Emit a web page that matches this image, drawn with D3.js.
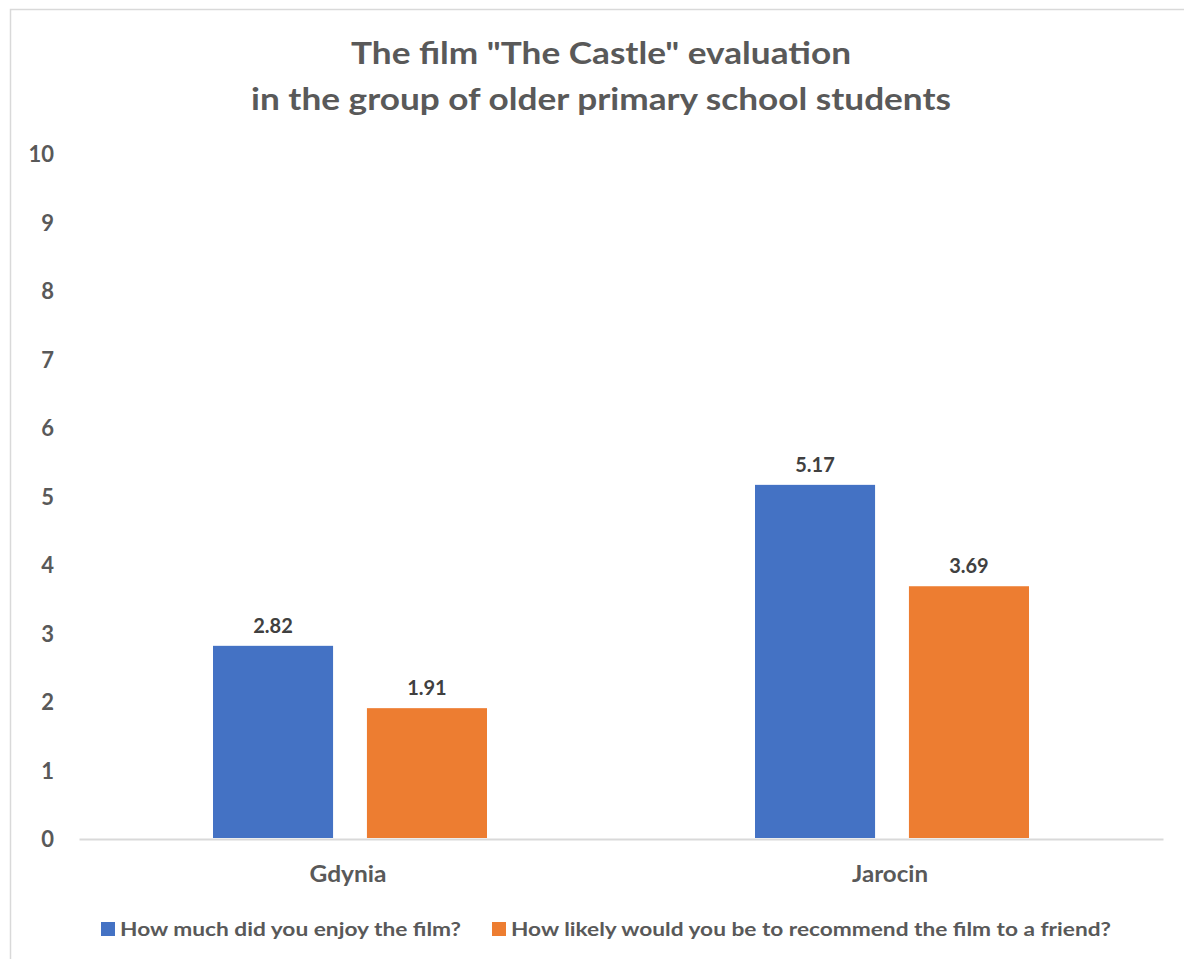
<!DOCTYPE html>
<html><head><meta charset="utf-8">
<script src="https://cdn.jsdelivr.net/npm/d3@7"></script>
<style>body{margin:0;background:#fff}svg{display:block}</style>
</head><body>
<svg id="c" width="1184" height="959"></svg>
<script>
const categories = ["Gdynia", "Jarocin"];
const seriesNames = ["How much did you enjoy the film?", "How likely would you be to recommend the film to a friend?"];
const enjoyValues = [2.82, 5.17];
const recommendValues = [1.91, 3.69];
const yTicks = [0,1,2,3,4,5,6,7,8,9,10];
const titleLines = ['The film "The Castle" evaluation', 'in the group of older primary school students'];
const colors = ["#4472C4", "#ED7D31"];

const svg = d3.select("#c");
const font = "Lato, 'Open Sans', sans-serif";
svg.append("rect").attr("x",10.5).attr("y",9.5).attr("width",1190).attr("height",980)
  .attr("fill","#fff").attr("stroke","#d9d9d9").attr("stroke-width",1.5);

const x0 = d3.scaleBand().domain(categories).range([79,1163]).paddingInner(0).paddingOuter(0);
const y = d3.scaleLinear().domain([0,10]).range([839,154]);
const x1 = d3.scaleBand().domain([0,1]).range([-137,137]).paddingInner(0.22).paddingOuter(0);

// title
svg.append("g").selectAll("text").data(titleLines).join("text")
  .attr("x",601).attr("y",(d,i)=>64+i*46).attr("text-anchor","middle")
  .attr("font-family",font).attr("font-weight","bold").attr("font-size",31).attr("fill","#595959")
  .attr("textLength",(d,i)=>i===0?500:700).attr("lengthAdjust","spacingAndGlyphs").text(d=>d);

// y axis
const ya = svg.append("g").attr("transform","translate(54,0)")
  .call(d3.axisLeft(y).tickValues(yTicks).tickSize(0).tickPadding(0));
ya.select(".domain").remove();
ya.selectAll("text").attr("font-family",font).attr("font-weight","bold").attr("font-size",22).attr("fill","#595959").attr("dy","0.35em");

// x axis
const xa = svg.append("g").attr("transform","translate(0,839)")
  .call(d3.axisBottom(x0).tickSize(0).tickPadding(0));
xa.select(".domain").attr("stroke","#d9d9d9").attr("stroke-width",2);
xa.selectAll("text").attr("font-family",font).attr("font-weight","bold").attr("font-size",22).attr("fill","#595959")
  .attr("dy","1.95em").attr("dx","-2")
  .attr("textLength",d=>d==="Gdynia"?77:76).attr("lengthAdjust","spacingAndGlyphs");

const data = categories.map((c,i)=>({cat:c, vals:[enjoyValues[i], recommendValues[i]]}));
const groups = svg.append("g").selectAll("g").data(data).join("g")
  .attr("transform",d=>`translate(${x0(d.cat)+x0.bandwidth()/2},0)`);
groups.selectAll("rect").data(d=>d.vals.map((v,j)=>({v,j}))).join("rect")
  .attr("x",d=>x1(d.j)).attr("width",x1.bandwidth())
  .attr("y",d=>y(d.v)).attr("height",d=>y(0)-y(d.v)-1)
  .attr("fill",d=>colors[d.j]);
groups.selectAll("text").data(d=>d.vals.map((v,j)=>({v,j}))).join("text")
  .attr("x",d=>x1(d.j)+x1.bandwidth()/2).attr("y",d=>y(d.v)-13)
  .attr("text-anchor","middle").attr("font-family",font).attr("font-weight","bold")
  .attr("font-size",20).attr("fill","#404040").text(d=>d.v.toFixed(2));

// legend
const legX = [101, 492];
const leg = svg.append("g").selectAll("g").data(seriesNames).join("g")
  .attr("transform",(d,i)=>`translate(${legX[i]},922)`);
leg.append("rect").attr("width",14).attr("height",14).attr("fill",(d,i)=>colors[i]);
leg.append("text").attr("x",19).attr("y",14).attr("font-family",font).attr("font-weight","bold")
  .attr("font-size",19).attr("fill","#595959")
  .attr("textLength",(d,i)=>i===0?341:600).attr("lengthAdjust","spacingAndGlyphs").text(d=>d);
</script>
</body></html>
